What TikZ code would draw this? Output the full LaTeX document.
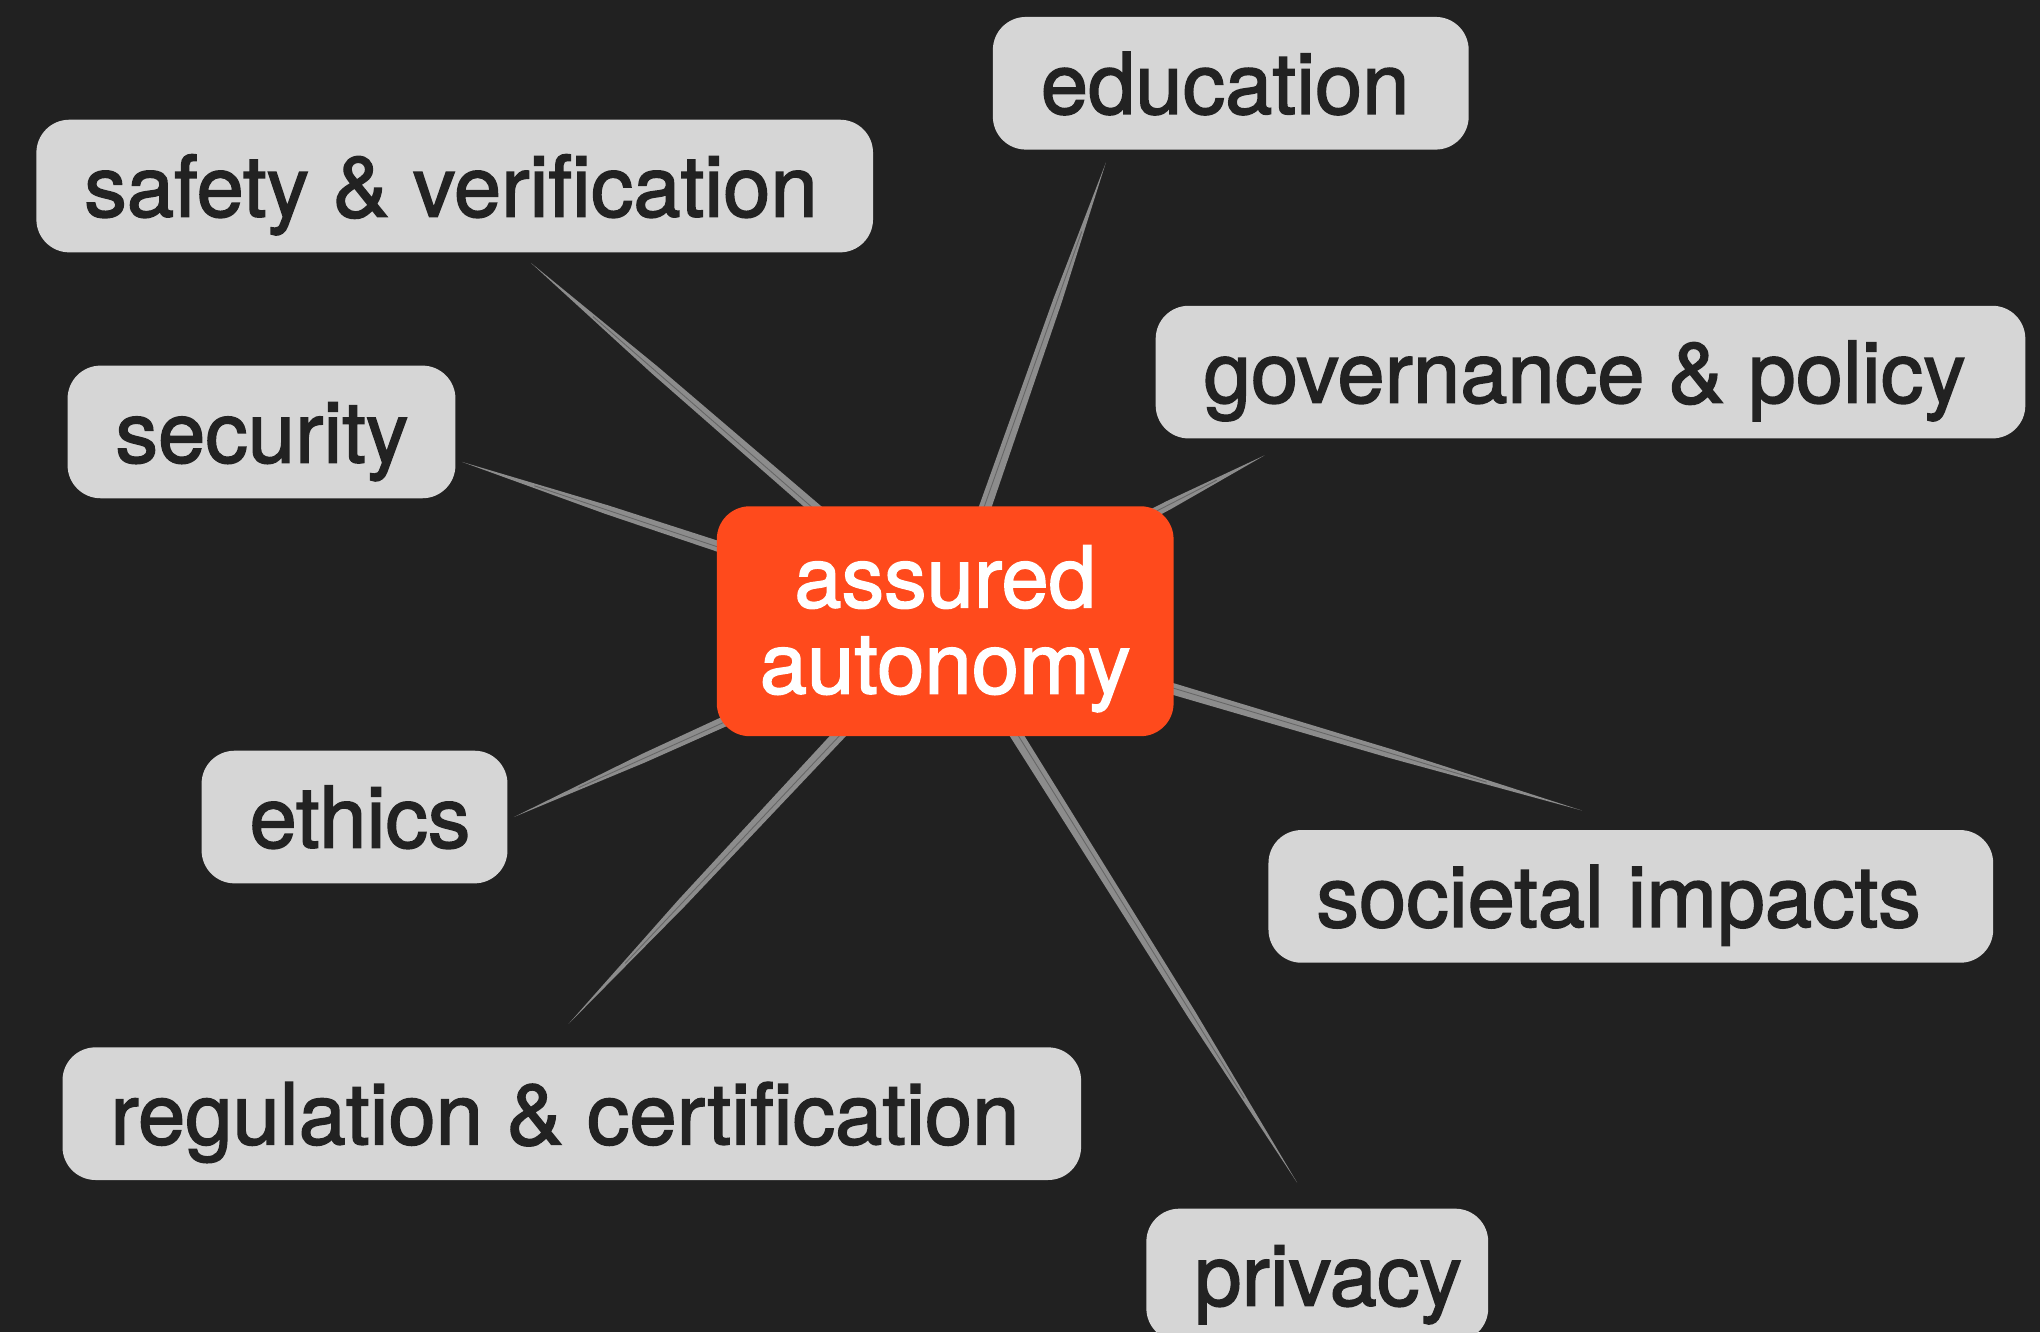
\documentclass[tikz,border=0pt]{standalone}
\usepackage{fontspec}
\setmainfont{TeX Gyre Heros}[FakeBold=1.8]
\usetikzlibrary{calc}

\definecolor{bgdark}{HTML}{212121}
\definecolor{boxgray}{HTML}{D6D6D6}
\definecolor{inkdark}{HTML}{222222}
\definecolor{hubred}{HTML}{FF4A1C}
\definecolor{chalk}{HTML}{8C8C8C}

\pgfdeclarelayer{back}
\pgfdeclarelayer{strokes}
\pgfsetlayers{back,strokes,main}

\begin{document}
\begin{tikzpicture}[x=0.01301cm,y=-0.01301cm,
	topic node/.style={fill=boxgray,text=inkdark,rounded corners=0.33cm,minimum height=1.327cm,inner ysep=0pt,inner xsep=0.48cm,align=flush left,text height=17.4pt,text depth=0pt,font=\fontsize{24.2}{28}\selectfont},
	hub node/.style={fill=hubred,text=white,rounded corners=0.33cm,minimum width=4.57cm,minimum height=2.30cm,inner sep=0pt,align=center,font=\fontsize{24.2}{24.5}\selectfont},
	twig/.style={fill=chalk}]

	\begin{pgfonlayer}{back}
		\fill[bgdark] (0,0) rectangle (1568,1024);
	\end{pgfonlayer}
	\useasboundingbox (0,0) rectangle (1568,1024);

	\node[hub node] (hub) at (726.5,477.5) {\rule{0pt}{0.77cm}assured\\autonomy};

	\node[topic node,text width=3.80cm] (education) at (946,64) {education};
	\node[topic node,text width=7.41cm] (safety) at (349.5,143) {safety \& verification};
	\node[topic node,text width=7.74cm] (governance) at (1222.5,286) {governance \& policy};
	\node[topic node,text width=2.92cm] (security) at (201,332) {security};
	\node[topic node,text width=2.10cm] (ethics) at (272.5,628) {ethics};
	\node[topic node,text width=6.29cm] (societal) at (1253.5,689) {societal impacts};
	\node[topic node,text width=9.23cm] (regulation) at (439.5,856) {regulation \& certification};
	\node[topic node,text width=2.46cm] (privacy) at (1012.5,980) {privacy};

	% loose ends of the chalk strokes
	\coordinate (to safety) at (408,202);
	\coordinate (to education) at (850,125);
	\coordinate (to governance) at (972,350);
	\coordinate (to security) at (355,355);
	\coordinate (to societal) at (1216,623);
	\coordinate (to ethics) at (395,628);
	\coordinate (to regulation) at (437,787);
	\coordinate (to privacy) at (997,909);

	\begin{pgfonlayer}{strokes}
		\foreach \t in {safety,education,governance,security,societal,ethics,regulation,privacy}{
			\coordinate (mid) at ($(hub.center)!0.7!(to \t)$);
			\fill[twig] ($(hub.center)!0.07cm!90:(to \t)$) -- ($(mid)!0.045cm!-90:(hub.center)$) -- (to \t)
				-- ($(mid)!0.045cm!90:(hub.center)$) -- ($(hub.center)!0.07cm!-90:(to \t)$) -- cycle;
			\draw[bgdark,line width=0.25pt,opacity=0.35] ($(hub.center)!0.015cm!90:(to \t)$) -- ($(hub.center)!0.85!(to \t)$);
		}
	\end{pgfonlayer}

\end{tikzpicture}
\end{document}
